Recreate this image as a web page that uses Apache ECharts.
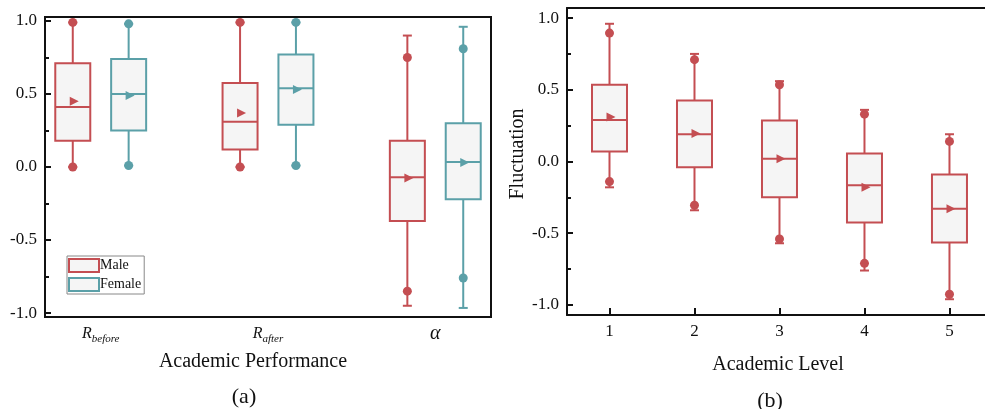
<!DOCTYPE html>
<html>
<head>
<meta charset="utf-8">
<script src="https://cdn.jsdelivr.net/npm/echarts@6/dist/echarts.min.js"></script>
<style>
  html, body { margin: 0; padding: 0; background: #fff; }
  #chart { width: 985px; height: 409px; }
</style>
</head>
<body>
<div id="chart"></div>
<script>
// each row: [capLow, dotLow, q1, median, q3, dotHigh, capHigh, mean]
var groupsA = ['before', 'after', 'alpha'];
var maleA = [
  [0.00, 0.00, 0.18, 0.41, 0.71, 0.99, 0.99, 0.45],
  [0.00, 0.00, 0.12, 0.31, 0.575, 0.99, 0.99, 0.37],
  [-0.95, -0.85, -0.37, -0.07, 0.18, 0.75, 0.90, -0.075]
];
var femaleA = [
  [0.01, 0.01, 0.25, 0.50, 0.74, 0.98, 0.98, 0.49],
  [0.01, 0.01, 0.29, 0.54, 0.77, 0.99, 0.99, 0.53],
  [-0.965, -0.76, -0.22, 0.034, 0.30, 0.81, 0.96, 0.03]
];
var levelsB = [1, 2, 3, 4, 5];
var fluctB = [
  [-0.18, -0.14, 0.07, 0.29, 0.535, 0.895, 0.96, 0.31],
  [-0.34, -0.305, -0.04, 0.19, 0.425, 0.71, 0.75, 0.195],
  [-0.57, -0.54, -0.25, 0.02, 0.285, 0.535, 0.56, 0.02],
  [-0.76, -0.71, -0.425, -0.165, 0.055, 0.33, 0.36, -0.18],
  [-0.96, -0.925, -0.565, -0.33, -0.09, 0.14, 0.19, -0.33]
];

var red = '#C44E52';
var teal = '#5BA0A8';
var fill = '#F5F5F5';
var serif = 'Liberation Serif';

function boxRender(color) {
  return function (params, api) {
    var x = api.value(0);
    var pt = function (v) { return api.coord([x, api.value(v)]); };
    var cx = pt(1)[0];
    var hw = 17.5, cap = 4.5, r = 4.5;
    var capLo = pt(1)[1], dotLo = pt(2)[1], q1 = pt(3)[1], med = pt(4)[1],
        q3 = pt(5)[1], dotHi = pt(6)[1], capHi = pt(7)[1], mean = pt(8)[1];
    var line = { stroke: color, lineWidth: 2 };
    return {
      type: 'group',
      children: [
        { type: 'line', shape: { x1: cx, y1: q3, x2: cx, y2: capHi }, style: line },
        { type: 'line', shape: { x1: cx, y1: q1, x2: cx, y2: capLo }, style: line },
        { type: 'line', shape: { x1: cx - cap, y1: capHi, x2: cx + cap, y2: capHi }, style: line },
        { type: 'line', shape: { x1: cx - cap, y1: capLo, x2: cx + cap, y2: capLo }, style: line },
        { type: 'rect', shape: { x: cx - hw, y: q3, width: 2 * hw, height: q1 - q3 },
          style: { fill: fill, stroke: color, lineWidth: 2 } },
        { type: 'line', shape: { x1: cx - hw, y1: med, x2: cx + hw, y2: med }, style: line },
        { type: 'circle', shape: { cx: cx, cy: dotHi, r: r }, style: { fill: color } },
        { type: 'circle', shape: { cx: cx, cy: dotLo, r: r }, style: { fill: color } },
        { type: 'polygon', shape: { points: [[cx - 3, mean - 4.5], [cx + 6, mean], [cx - 3, mean + 4.5]] },
          style: { fill: color } }
      ]
    };
  };
}

function rowsToData(rows, xs, offset) {
  return rows.map(function (r, i) { return [xs[i] + offset].concat(r); });
}

var labelRich = {
  i: { fontFamily: serif, fontStyle: 'italic', fontSize: 16, color: '#111', lineHeight: 22, verticalAlign: 'middle' },
  s: { fontFamily: serif, fontStyle: 'italic', fontSize: 11, color: '#111', lineHeight: 22, verticalAlign: 'bottom', padding: [8, 0, 0, 0] },
  g: { fontFamily: serif, fontStyle: 'italic', fontSize: 20, color: '#111', lineHeight: 22 }
};

var yAxisBase = {
  type: 'value',
  splitNumber: 4,
  axisLine: { show: true, lineStyle: { color: '#111', width: 2 } },
  axisTick: { show: true, inside: true, length: 6, lineStyle: { color: '#111', width: 2 } },
  minorTick: { show: true, splitNumber: 2, length: 4, lineStyle: { color: '#111', width: 2 } },
  splitLine: { show: false },
  axisLabel: {
    fontFamily: serif, fontSize: 17, color: '#111', margin: 8,
    showMinLabel: false, showMaxLabel: false,
    formatter: function (v) { return v.toFixed(1); }
  }
};

var axisLineBlack = { show: true, onZero: false, lineStyle: { color: '#111', width: 2 } };

var chart = echarts.init(document.getElementById('chart'), null, { renderer: 'canvas' });
chart.setOption({
  animation: false,
  backgroundColor: '#fff',
  grid: [
    { left: 45, top: 17, width: 446, height: 300, show: true, borderColor: '#111', borderWidth: 2 },
    { left: 567, top: 8, right: 0, height: 307 }
  ],
  xAxis: [
    {
      type: 'value', gridIndex: 0, min: 0.667, max: 3.333,
      axisLine: axisLineBlack,
      axisTick: { show: false },
      splitLine: { show: false },
      axisLabel: {
        margin: 6,
        customValues: [1, 2, 3],
        formatter: function (v) {
          if (v === 1) return '{i|R}{s|' + groupsA[0] + '}';
          if (v === 2) return '{i|R}{s|' + groupsA[1] + '}';
          return '{g|α}';
        },
        rich: labelRich
      }
    },
    {
      type: 'value', gridIndex: 1, min: 0.5, max: 5.418,
      axisLine: axisLineBlack,
      axisTick: { show: true, inside: true, length: 7, customValues: levelsB, lineStyle: { color: '#111', width: 2 } },
      splitLine: { show: false },
      axisLabel: { fontFamily: serif, fontSize: 17, color: '#111', margin: 8, customValues: levelsB }
    },
    {
      type: 'value', gridIndex: 1, position: 'top', min: 0.5, max: 5.418,
      axisLine: axisLineBlack,
      axisTick: { show: false }, axisLabel: { show: false }, splitLine: { show: false }
    }
  ],
  yAxis: [
    Object.assign({}, yAxisBase, { gridIndex: 0, min: -1.027, max: 1.027 }),
    Object.assign({}, yAxisBase, { gridIndex: 1, min: -1.07, max: 1.07 })
  ],
  legend: {
    left: 67, top: 256, orient: 'vertical',
    itemWidth: 30, itemHeight: 13, itemGap: 4,
    borderColor: '#888', borderWidth: 1, borderRadius: 0,
    padding: [2, 3, 2, 1], backgroundColor: '#fff',
    textStyle: { fontFamily: serif, fontSize: 14, color: '#111', padding: [0, 0, 0, -4] },
    data: [
      { name: 'Male', icon: 'rect', itemStyle: { color: fill, borderColor: red, borderWidth: 2 } },
      { name: 'Female', icon: 'rect', itemStyle: { color: fill, borderColor: teal, borderWidth: 2 } }
    ]
  },
  graphic: [
    { type: 'text', style: { text: 'Academic Performance', x: 253, y: 362, fill: '#111',
      font: '20px "Liberation Serif"', textAlign: 'center', textVerticalAlign: 'middle' } },
    { type: 'text', style: { text: '(a)', x: 244, y: 397, fill: '#111',
      font: '22px "Liberation Serif"', textAlign: 'center', textVerticalAlign: 'middle' } },
    { type: 'text', style: { text: 'Academic Level', x: 778, y: 365, fill: '#111',
      font: '20px "Liberation Serif"', textAlign: 'center', textVerticalAlign: 'middle' } },
    { type: 'text', style: { text: '(b)', x: 770, y: 401, fill: '#111',
      font: '22px "Liberation Serif"', textAlign: 'center', textVerticalAlign: 'middle' } },
    { type: 'text', x: 518, y: 154, rotation: Math.PI / 2, style: { text: 'Fluctuation', x: 0, y: 0, fill: '#111',
      font: '20px "Liberation Serif"', textAlign: 'center', textVerticalAlign: 'middle' } }
  ],
  series: [
    { name: 'Male', type: 'custom', xAxisIndex: 0, yAxisIndex: 0, itemStyle: { color: red },
      renderItem: boxRender(red), data: rowsToData(maleA, [1, 2, 3], -0.167) },
    { name: 'Female', type: 'custom', xAxisIndex: 0, yAxisIndex: 0, itemStyle: { color: teal },
      renderItem: boxRender(teal), data: rowsToData(femaleA, [1, 2, 3], 0.167) },
    { name: 'Level', type: 'custom', xAxisIndex: 1, yAxisIndex: 1, itemStyle: { color: red },
      renderItem: boxRender(red), data: rowsToData(fluctB, levelsB, 0) }
  ]
});
</script>
</body>
</html>
